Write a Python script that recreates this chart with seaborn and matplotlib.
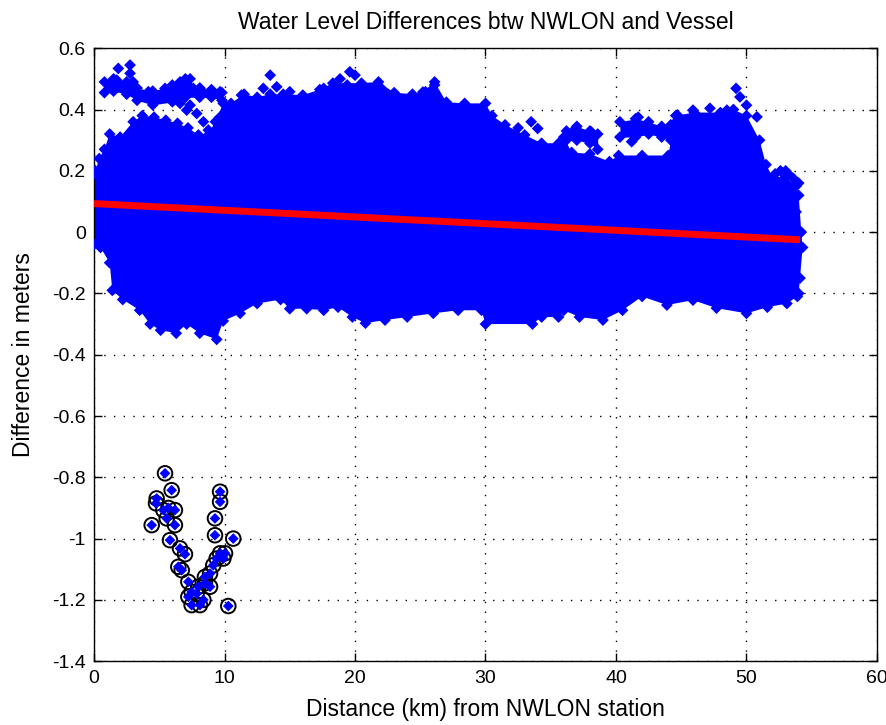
import numpy as np
import matplotlib
matplotlib.use("Agg")
import matplotlib.pyplot as plt
import seaborn as sns

# ---- Data ----
# Upper envelope of the dense cloud (left to right, then down the right edge)
upper_x = [0.0, 0.1, 0.4, 0.8, 1.2, 2.0, 3.0, 3.7, 4.6, 5.5, 6.4, 7.2, 8.0, 8.6, 9.3, 9.9,
           10.5, 11.5, 12.5, 13.5, 14.5, 16.0, 17.3, 18.3, 20.5, 21.8, 23.0, 24.4, 25.2,
           26.1, 27.0, 28.4, 30.0, 30.5, 31.5, 33.0, 34.3, 35.6, 36.0, 36.6, 38.0, 39.5,
           40.2, 42.0, 44.0, 44.6, 46.0, 48.0, 49.0, 50.0, 51.0, 51.5, 52.0, 53.0, 53.8,
           54.0, 54.2, 54.3, 54.1, 54.0]
upper_y = [0.19, 0.20, 0.24, 0.27, 0.32, 0.31, 0.36, 0.38, 0.375, 0.365, 0.355, 0.34, 0.317,
           0.31, 0.36, 0.42, 0.42, 0.45, 0.44, 0.45, 0.45, 0.447, 0.465, 0.486, 0.486, 0.49,
           0.455, 0.45, 0.457, 0.49, 0.424, 0.42, 0.42, 0.38, 0.35, 0.317, 0.29, 0.29, 0.31,
           0.26, 0.255, 0.23, 0.25, 0.25, 0.25, 0.38, 0.39, 0.39, 0.40, 0.38, 0.30, 0.22,
           0.18, 0.18, 0.15, 0.12, 0.0, -0.05, -0.15, -0.20]
# Lower envelope of the dense cloud (left to right)
lower_x = [0.0, 0.5, 1.2, 1.4, 2.2, 3.5, 4.3, 5.1, 6.3, 7.1, 8.1, 9.4, 9.9, 11.2, 12.5,
           14.3, 15.0, 16.3, 17.6, 18.7, 19.8, 20.8, 22.3, 24.0, 26.0, 27.9, 29.7, 30.0,
           33.6, 34.3, 35.6, 36.0, 37.2, 39.0, 40.5, 42.0, 43.9, 45.9, 47.7, 50.0, 51.6,
           53.1, 53.9]
lower_y = [-0.04, -0.05, -0.10, -0.19, -0.22, -0.255, -0.30, -0.32, -0.33, -0.30, -0.33,
           -0.35, -0.29, -0.265, -0.233, -0.22, -0.25, -0.25, -0.255, -0.245, -0.277, -0.297,
           -0.287, -0.277, -0.265, -0.255, -0.255, -0.30, -0.30, -0.277, -0.277, -0.255,
           -0.277, -0.287, -0.255, -0.21, -0.238, -0.222, -0.248, -0.265, -0.245, -0.233,
           -0.21]
# Detached bands of points lying just above the body
band1_x = [0.8, 1.5, 2.5, 3.3, 4.5, 6.0, 7.0, 8.1, 9.0, 9.8]
band1_top = [0.49, 0.50, 0.49, 0.47, 0.46, 0.48, 0.50, 0.47, 0.465, 0.455]
band1_bot = [0.455, 0.46, 0.45, 0.43, 0.415, 0.425, 0.44, 0.44, 0.44, 0.43]
band2_x = [40.3, 41.5, 42.5, 43.5, 44.2, 44.6]
band2_top = [0.36, 0.37, 0.36, 0.345, 0.35, 0.38]
band2_bot = [0.31, 0.31, 0.32, 0.31, 0.30, 0.36]
band3_x = [36.2, 37.0, 38.0, 38.6]
band3_top = [0.33, 0.345, 0.33, 0.32]
band3_bot = [0.30, 0.30, 0.29, 0.27]
# Other scattered points outside the solid body of the cloud
island_x = [1.86, 2.76, 2.76, 1.23, 1.74, 2.25, 3.0, 3.52, 4.16, 4.8, 5.44, 5.82, 6.59, 7.36,
            7.61, 6.84, 8.12, 8.89, 9.66, 7.36, 7.87, 8.38, 8.76, 6.08, 6.59, 7.1, 9.66,
            11.3, 13.5, 12.97, 14.0, 15.0, 17.6, 18.85, 19.6, 20.0, 19.4, 20.5, 21.9, 25.4,
            26.1, 33.5, 34.0, 32.5, 36.9, 38.1, 41.7, 42.3, 41.2, 44.7, 45.9, 47.2, 48.5,
            49.2, 49.5, 50.0, 50.8, 46.2, 49.5, 53.6, 53.8, 52.6, 53.2, 52.2, 53.0, 54.0]
island_y = [0.534, 0.545, 0.518, 0.485, 0.496, 0.469, 0.49, 0.447, 0.458, 0.441, 0.469,
            0.458, 0.49, 0.50, 0.469, 0.447, 0.469, 0.458, 0.458, 0.414, 0.387, 0.36, 0.333,
            0.436, 0.42, 0.398, 0.376, 0.447, 0.512, 0.469, 0.474, 0.458, 0.469, 0.50, 0.523,
            0.512, 0.48, 0.469, 0.474, 0.458, 0.48, 0.36, 0.338, 0.34, 0.338, 0.327, 0.375,
            0.344, 0.295, 0.382, 0.398, 0.404, 0.398, 0.469, 0.441, 0.414, 0.376, 0.322,
            0.284, 0.175, 0.066, 0.20, 0.19, 0.19, 0.20, 0.16]
# Flagged outliers (circled)
outlier_x = [5.44, 5.95, 4.80, 4.75, 5.31, 5.70, 6.20, 4.42, 5.57, 6.20, 5.82, 6.59, 6.97,
             6.46, 6.72, 7.23, 7.48, 7.23, 7.48, 8.12, 8.38, 7.99, 8.50, 8.89, 8.50, 8.89,
             9.14, 9.40, 9.66, 10.04, 9.91, 9.27, 9.27, 9.66, 9.66, 10.67, 10.29, 7.86]
outlier_y = [-0.787, -0.842, -0.869, -0.885, -0.907, -0.900, -0.907, -0.956, -0.934, -0.956,
             -1.005, -1.032, -1.051, -1.092, -1.103, -1.141, -1.174, -1.190, -1.217, -1.217,
             -1.200, -1.157, -1.146, -1.157, -1.125, -1.114, -1.087, -1.065, -1.048, -1.048,
             -1.065, -0.989, -0.934, -0.880, -0.847, -1.000, -1.220, -1.180]
# Fitted trend line
trend_x = [0.0, 54.1]
trend_y = [0.093, -0.025]

x_ticks = [0, 10, 20, 30, 40, 50, 60]
y_ticks = [-1.4, -1.2, -1.0, -0.8, -0.6, -0.4, -0.2, 0.0, 0.2, 0.4, 0.6]
y_tick_labels = ["-1.4", "-1.2", "-1", "-0.8", "-0.6", "-0.4", "-0.2", "0", "0.2", "0.4", "0.6"]

title = "Water Level Differences btw NWLON and Vessel"
xlabel = "Distance (km) from NWLON station"
ylabel = "Difference in meters"

# ---- Style ----
sns.set_style("white")
plt.rcParams['font.family'] = ['Liberation Sans', 'DejaVu Sans']
FS_TICK = 14
FS_LABEL = 16.5

BLUE = "#0000ff"
RED = "#ff0000"

fig = plt.figure(figsize=(8.87, 7.25), dpi=100)
ax = fig.add_axes([0.106, 0.088, 0.8827, 0.8455])

# Solid body of the cloud
ax.fill(np.r_[upper_x, lower_x[::-1]], np.r_[upper_y, lower_y[::-1]],
        color=BLUE, lw=0, zorder=2)
# Detached bands
for bx, bt, bb in [(band1_x, band1_top, band1_bot),
                   (band2_x, band2_top, band2_bot),
                   (band3_x, band3_top, band3_bot)]:
    ax.fill_between(bx, bb, bt, color=BLUE, lw=0, zorder=2)

# Ragged diamond edge + stray points
edge_x = (upper_x + lower_x + band1_x + band1_x + band2_x + band2_x + band3_x + band3_x
          + island_x)
edge_y = (upper_y + lower_y + band1_top + band1_bot + band2_top + band2_bot + band3_top
          + band3_bot + island_y)
sns.scatterplot(x=edge_x, y=edge_y, marker="D", s=36, color=BLUE, edgecolor="none",
                linewidth=0, ax=ax, zorder=3)

# Outliers: black circles with blue diamonds
sns.scatterplot(x=outlier_x, y=outlier_y, marker="o", s=110, color="black",
                linewidth=1.4, ax=ax, zorder=4)
circ = ax.collections[-1]
circ.set_facecolor("none")
circ.set_edgecolor("black")
sns.scatterplot(x=outlier_x, y=outlier_y, marker="D", s=30, color=BLUE,
                edgecolor="none", linewidth=0, ax=ax, zorder=5)

# Trend line
sns.lineplot(x=trend_x, y=trend_y, color=RED, linewidth=5, ax=ax, zorder=6)
ax.lines[-1].set_solid_capstyle("butt")

ax.set_xlim(0, 60)
ax.set_ylim(-1.4, 0.6)
ax.set_xticks(x_ticks)
ax.set_xticklabels([str(t) for t in x_ticks])
ax.set_yticks(y_ticks)
ax.set_yticklabels(y_tick_labels)

ax.grid(True, color="black", linestyle=(0, (1, 6)), linewidth=1.0, zorder=1)
ax.set_axisbelow(True)
ax.tick_params(direction="in", length=6, width=1, colors="black", labelsize=FS_TICK,
               top=True, right=True, bottom=True, left=True, pad=6)
for sp in ax.spines.values():
    sp.set_visible(True)
    sp.set_color("black")
    sp.set_linewidth(1.0)

ax.set_title(title, fontsize=FS_LABEL, pad=14, color="black")
ax.set_xlabel(xlabel, fontsize=FS_LABEL, color="black", labelpad=8)
ax.set_ylabel(ylabel, fontsize=FS_LABEL, color="black", labelpad=12)

fig.savefig("out.png", dpi=100, facecolor="white")
